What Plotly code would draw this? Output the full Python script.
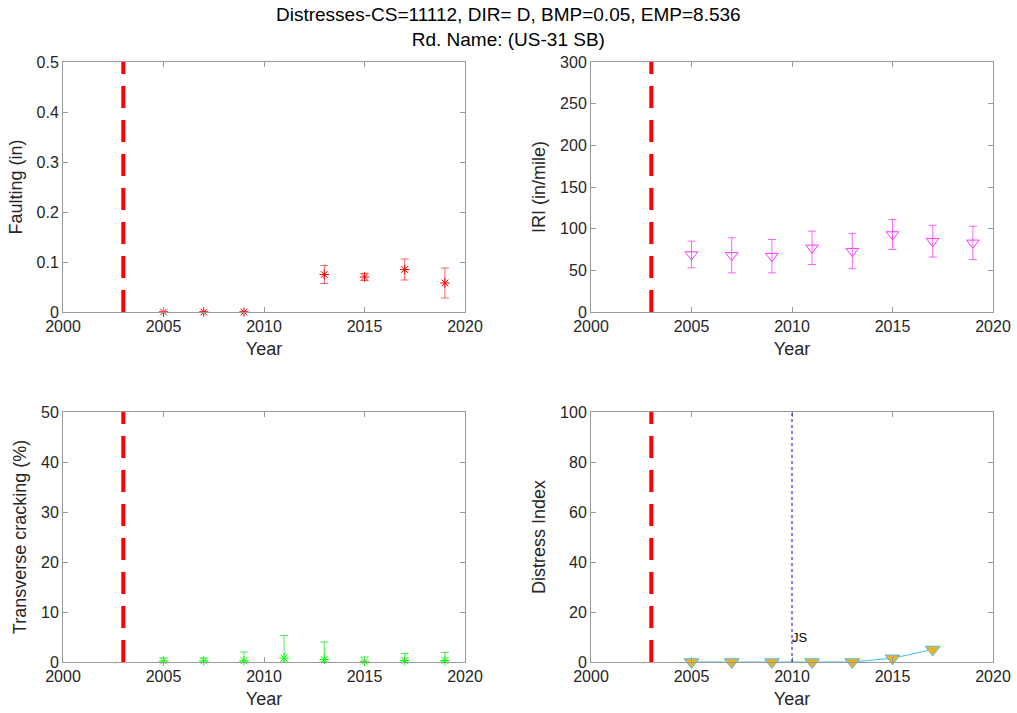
import plotly.graph_objects as go

# ---- data ----
years = [2005, 2007, 2009, 2011, 2013, 2015, 2017, 2019]

fault_years = [2005, 2007, 2009, 2013, 2015, 2017, 2019]
fault_mean = [0.0, 0.0, 0.0, 0.075, 0.070, 0.085, 0.058]
fault_err = [0.0, 0.0, 0.0, 0.018, 0.007, 0.021, 0.030]

iri_mean = [69, 68, 67, 77, 73, 93, 85, 83]
iri_err = [16, 21, 20, 20, 21, 18, 19, 20]

tc_mean = [0.2, 0.2, 0.25, 0.8, 0.5, 0.15, 0.3, 0.3]
tc_err = [0.6, 0.6, 1.75, 4.5, 3.5, 0.85, 1.4, 1.6]

di_years = [2005, 2007, 2009, 2011, 2013, 2015, 2017]
di_vals = [0, 0, 0, 0, 0, 1.5, 5.0]

construction_year = 2003
js_year = 2010
js_label = "JS"
js_label_y = 10

title_text = "Distresses-CS=11112, DIR= D, BMP=0.05, EMP=8.536<br>Rd. Name: (US-31 SB)"

FONT = "Liberation Sans, Arial, Helvetica, sans-serif"
TXT = "#262626"
AX = "#9a9a9a"

fig = go.Figure()

def minus(m, e):
    return [min(a, b) for a, b in zip(m, e)]

# Faulting
fig.add_trace(go.Scatter(
    x=fault_years, y=fault_mean, mode="markers", xaxis="x", yaxis="y",
    marker=dict(symbol="asterisk-open", size=8, color="#ff0000", line=dict(width=1, color="#ff0000")),
    error_y=dict(type="data", array=fault_err, arrayminus=minus(fault_mean, fault_err),
                 color="rgba(255,0,0,0.6)", thickness=1, width=4),
    cliponaxis=False, showlegend=False))

# IRI
fig.add_trace(go.Scatter(
    x=years, y=iri_mean, mode="markers", xaxis="x2", yaxis="y2",
    marker=dict(symbol="triangle-down-open", size=11, color="#ff33ff", line=dict(width=1, color="#ff33ff")),
    error_y=dict(type="data", array=iri_err, color="rgba(255,0,255,0.6)", thickness=1, width=4),
    cliponaxis=False, showlegend=False))

# Transverse cracking
fig.add_trace(go.Scatter(
    x=years, y=tc_mean, mode="markers", xaxis="x3", yaxis="y3",
    marker=dict(symbol="asterisk-open", size=8, color="#00ff00", line=dict(width=1, color="#00ff00")),
    error_y=dict(type="data", array=tc_err, arrayminus=minus(tc_mean, tc_err),
                 color="rgba(0,230,0,0.7)", thickness=1, width=4),
    cliponaxis=False, showlegend=False))

# Distress index
fig.add_trace(go.Scatter(
    x=di_years, y=di_vals, mode="lines+markers", xaxis="x4", yaxis="y4",
    line=dict(color="#4DBEEE", width=1.2),
    marker=dict(symbol="triangle-down", size=13, color="#EDB120", line=dict(width=1, color="#4DBEEE")),
    cliponaxis=False, showlegend=False))

# domains in px -> paper
W, H = 1017, 713
xl = [63 / W, 465 / W]
xr = [591 / W, 993 / W]
yt = [1 - 312 / H, 1 - 62 / H]
yb = [1 - 662 / H, 1 - 412 / H]

def xax(domain, anchor):
    return dict(domain=domain, anchor=anchor, range=[2000, 2020], tickvals=[2000, 2005, 2010, 2015, 2020],
                automargin=False,
                showgrid=False, zeroline=False, showline=True, linecolor=AX, linewidth=1, mirror="ticks",
                ticks="inside", ticklen=5, tickcolor=AX, tickfont=dict(size=16, color=TXT, family=FONT),
                title=dict(text="Year", font=dict(size=18, color=TXT, family=FONT), standoff=8))

def yax(domain, anchor, rng, dt, title):
    return dict(domain=domain, anchor=anchor, range=rng, dtick=dt, tick0=0, automargin=False,
                showgrid=False, zeroline=False, showline=True, linecolor=AX, linewidth=1, mirror="ticks",
                ticks="inside", ticklen=5, tickcolor=AX, tickfont=dict(size=16, color=TXT, family=FONT),
                title=dict(text=title, font=dict(size=18, color=TXT, family=FONT), standoff=9))

fig.update_layout(
    width=W, height=H, margin=dict(l=0, r=0, t=0, b=0),
    paper_bgcolor="white", plot_bgcolor="white",
    font=dict(family=FONT, color=TXT),
    xaxis=xax(xl, "y"), yaxis=yax(yt, "x", [0, 0.5], 0.1, "Faulting (in)"),
    xaxis2=xax(xr, "y2"), yaxis2=yax(yt, "x2", [0, 300], 50, "IRI (in/mile)"),
    xaxis3=xax(xl, "y3"), yaxis3=yax(yb, "x3", [0, 50], 10, "Transverse cracking (%)"),
    xaxis4=xax(xr, "y4"), yaxis4=yax(yb, "x4", [0, 100], 20, "Distress Index"),
)
fig.layout.yaxis.tickvals = [0, 0.1, 0.2, 0.3, 0.4, 0.5]
fig.layout.yaxis.ticktext = ["0", "0.1", "0.2", "0.3", "0.4", "0.5"]

shapes = []
for xr_, yr_ in [("x", "y"), ("x2", "y2"), ("x3", "y3"), ("x4", "y4")]:
    shapes.append(dict(type="line", xref=xr_, yref=yr_ + " domain", x0=construction_year, x1=construction_year,
                       y0=0, y1=1, line=dict(color="#ff0000", width=4, dash="22px,12px")))
shapes.append(dict(type="line", xref="x4", yref="y4 domain", x0=js_year, x1=js_year, y0=0, y1=1,
                   line=dict(color="#0000ff", width=1, dash="dot")))
fig.update_layout(shapes=shapes)

fig.add_annotation(x=js_year, y=js_label_y, xref="x4", yref="y4", text=js_label, showarrow=False,
                   xanchor="left", yanchor="middle", xshift=-2, font=dict(size=13, color="black", family=FONT))

fig.add_annotation(x=0.5, y=1 - 2 / H, xref="paper", yref="paper", text=title_text, showarrow=False,
                   xanchor="center", yanchor="top", font=dict(size=19, color="black", family=FONT))

fig.write_html("out.html")
